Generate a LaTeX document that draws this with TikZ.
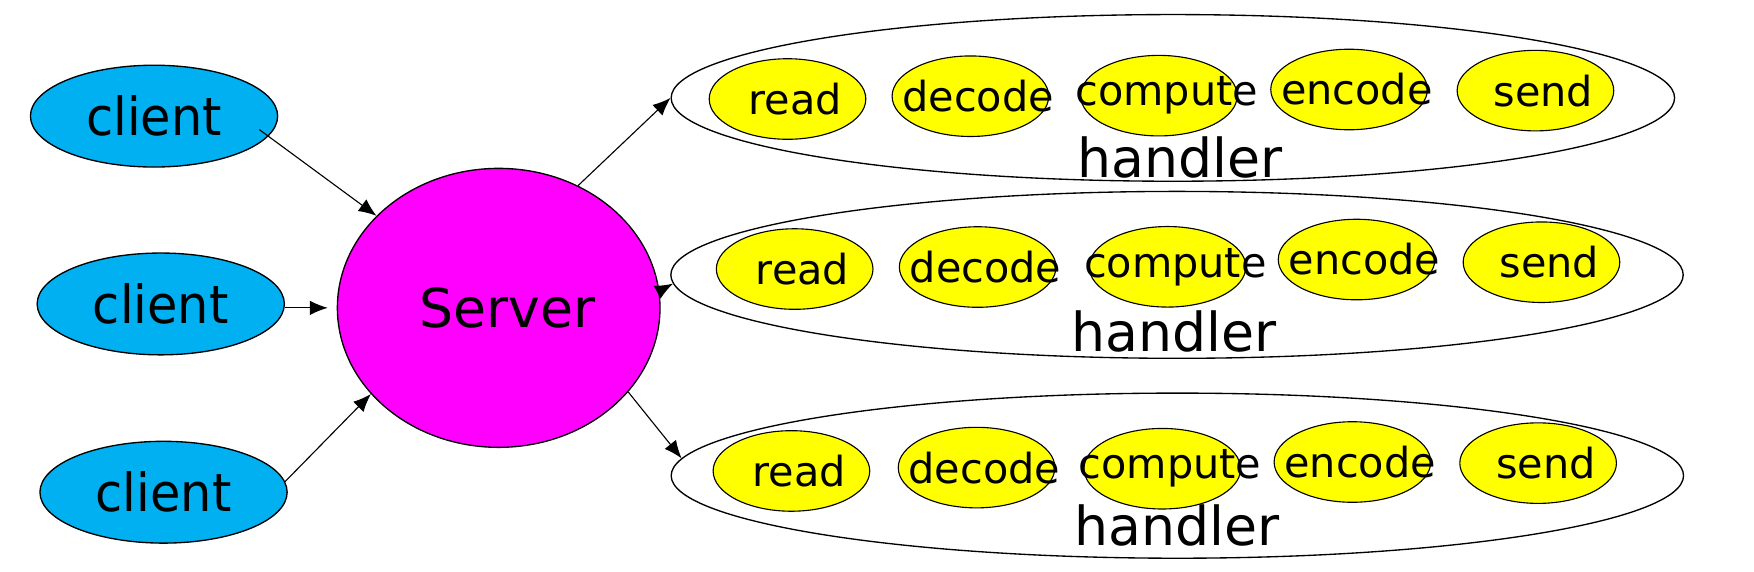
\documentclass[tikz,border=0pt]{standalone}
\usepackage{fontspec}
\setmainfont{DejaVu Sans}
\newfontfamily\clientfont{DejaVu Sans}[FakeStretch=0.94]
\usepackage{tikz}
\usetikzlibrary{shapes.geometric}
\usetikzlibrary{arrows.meta}

\definecolor{clientblue}{RGB}{0,176,240}
\definecolor{servermagenta}{RGB}{255,0,255}
\definecolor{stageyellow}{RGB}{255,255,0}
\newcommand{\steptext}[1]{\makebox[0pt]{\hspace{7pt}#1}}

\begin{document}
\begin{tikzpicture}[x=0.5pt, y=-0.5pt,
		client/.style={ellipse, draw, line width=0.6pt, fill=clientblue, inner sep=0pt,
			minimum width=110.5pt, minimum height=45.5pt, font=\clientfont\fontsize{23.5}{28}\selectfont},
		server/.style={ellipse, draw, line width=0.6pt, fill=servermagenta, inner sep=0pt,
			minimum width=144.2pt, minimum height=124.7pt, font=\fontsize{24}{28}\selectfont},
		handler/.style={ellipse, draw, line width=0.6pt, inner sep=0pt, minimum width=452.5pt},
		stage/.style={ellipse, draw, line width=0.5pt, fill=stageyellow, inner sep=0pt,
			minimum width=70pt, minimum height=36pt, font=\fontsize{18.5}{22}\selectfont},
		htext/.style={anchor=base, inner sep=0pt, font=\fontsize{24}{28}\selectfont},
		arr/.style={-{Latex[length=8pt,width=6.5pt]}, line width=0.5pt}]

				\useasboundingbox (0,0) rectangle (1568,511);

				% clients and server
				\node[client] (c1) at (137.7,103.8) {client};
				\node[client] (c2) at (143.7,271.7) {client};
				\node[client] (c3) at (146.2,440) {client};
				\node[server] (srv) at (445.8,275.2) {\makebox[0pt]{\hspace{8pt}Server}};

				% handlers
				\node[handler, minimum width=448.5pt, minimum height=74.5pt] (h1) at (1048.5,87.5) {};
				\node[handler, minimum height=74.6pt] (h2) at (1052.2,245.7) {};
				\node[handler, minimum height=73.8pt] (h3) at (1052.5,425.2) {};

				\node[htext] (t1) at (1055,159) {handler};
				\node[htext] (t2) at (1049.5,314.4) {handler};
				\node[htext] (t3) at (1052,487.2) {handler};

				\node[stage] (r1) at (704,88.5) {\steptext{read}};
				\node[stage] (d1) at (867.5,86) {\steptext{decode}};
				\node[stage] (p1) at (1036,85.5) {\steptext{compute}};
				\node[stage] (e1) at (1206,80) {\steptext{encode}};
				\node[stage] (s1) at (1372.6,81) {\steptext{send}};

				\node[stage] (r2) at (710.4,240.5) {\steptext{read}};
				\node[stage] (d2) at (874,238.7) {\steptext{decode}};
				\node[stage] (p2) at (1043.7,238.5) {\steptext{compute}};
				\node[stage] (e2) at (1212.7,232) {\steptext{encode}};
				\node[stage] (s2) at (1378,234.4) {\steptext{send}};

				\node[stage] (r3) at (707.5,421) {\steptext{read}};
				\node[stage] (d3) at (873,418) {\steptext{decode}};
				\node[stage] (p3) at (1039,419) {\steptext{compute}};
				\node[stage] (e3) at (1209,413) {\steptext{encode}};
				\node[stage] (s3) at (1375,414) {\steptext{send}};

				% arrows
				\draw[arr, shorten <=-5pt] (c1.-10) -- (srv.143);
				\draw[arr, shorten >=4pt] (c2.east |- srv) -- (srv.west);
				\draw[arr] (c3.5) -- (srv.214);
				\draw[arr] (srv.57) -- (h1.west);
				\draw[arr] (srv.6.5) -- (h2.181.5);
				\draw[arr] (srv.-33) -- (h3.178);

			\end{tikzpicture}
\end{document}
